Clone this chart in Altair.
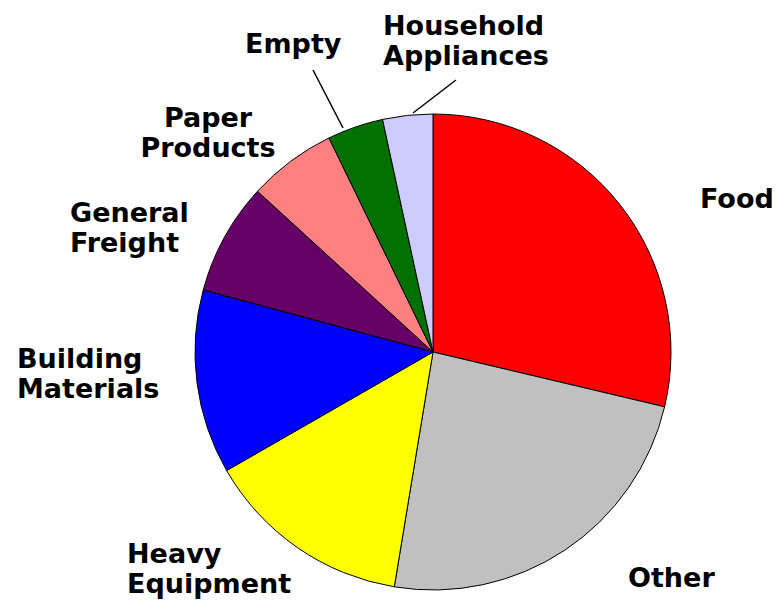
import altair as alt
import pandas as pd

# ---- data ----
categories = ["Food", "Other", "Heavy Equipment", "Building Materials",
              "General Freight", "Paper Products", "Empty", "Household Appliances"]
shares = [28.7, 23.9, 14.1, 12.5, 7.6, 6.0, 3.8, 3.4]
colors = ["#FF0000", "#C0C0C0", "#FFFF00", "#0000FF",
          "#660066", "#FF8080", "#007000", "#CCCCFF"]

df = pd.DataFrame({"category": categories, "share": shares,
                   "idx": list(range(len(categories)))})

# one-row table for annotation marks
one = pd.DataFrame({"k": [0]})

# ---- layout (page coordinates, page margin 8px) ----
M = 8
CX, CY, R = 433 - M, 352 - M, 238

FONT = "DejaVu Sans"
FS = 27
LH = 30

pie = alt.Chart(df).mark_arc(stroke="black", strokeWidth=1, radius=R).encode(
    theta=alt.Theta("share:Q", stack=True),
    color=alt.Color("category:N", scale=alt.Scale(domain=categories, range=colors), legend=None),
    order=alt.Order("idx:Q"),
    x=alt.value(CX),
    y=alt.value(CY),
)

# label annotations: (text, x, baseline y, align)
label_layout = [
    ("Food", 700, 208, "left"),
    ("Other", 628, 587, "left"),
    ("Heavy\nEquipment", 127, 563, "left"),
    ("Building\nMaterials", 17, 368, "left"),
    ("General\nFreight", 70, 222, "left"),
    ("Paper\nProducts", 208, 127, "center"),
    ("Empty", 245, 53, "left"),
    ("Household\nAppliances", 383, 35, "left"),
]

layers = [pie]
for txt, lx, ly, al in label_layout:
    layers.append(
        alt.Chart(one).mark_text(
            align=al, baseline="alphabetic", font=FONT, fontWeight="bold",
            fontSize=FS, lineHeight=LH, lineBreak="\n", color="black"
        ).encode(x=alt.value(lx - M), y=alt.value(ly - M), text=alt.value(txt))
    )

leaders = [((313, 70), (343, 128)), ((456, 80), (413, 113))]
for (x1, y1), (x2, y2) in leaders:
    layers.append(
        alt.Chart(one).mark_rule(color="black", strokeWidth=1.5).encode(
            x=alt.value(x1 - M), x2=alt.value(x2 - M),
            y=alt.value(y1 - M), y2=alt.value(y2 - M)
        )
    )

chart = alt.layer(*layers).properties(
    width=768, height=600, padding=0,
    autosize=alt.AutoSizeParams(type="none"),
    background="white",
).configure_view(stroke=None)

chart.save("out.html", embed_options={"renderer": "svg", "actions": False})
